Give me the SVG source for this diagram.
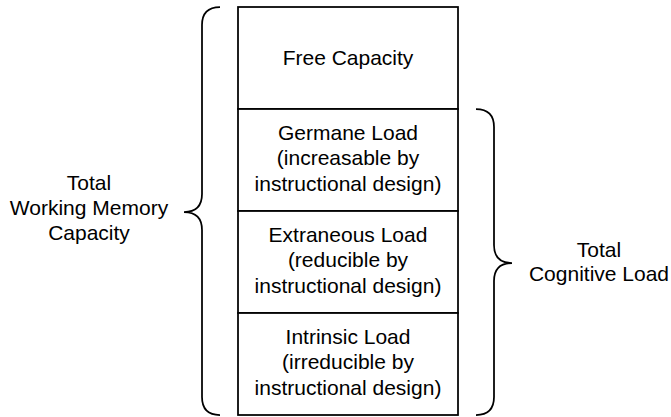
<svg xmlns="http://www.w3.org/2000/svg" width="671" height="417" viewBox="0 0 671 417">
  <style>
    .box { fill: #ffffff; stroke: #000000; stroke-width: 1.75; }
    .brace { fill: none; stroke: #000000; stroke-width: 1.75; }
    text { font-family: "Liberation Sans", Arial, sans-serif; font-size: 21px; fill: #000000; text-anchor: middle; }
  </style>
  <rect width="671" height="417" fill="#ffffff"/>

  <!-- stacked memory blocks -->
  <g id="free-capacity">
    <rect class="box" x="238" y="7" width="220" height="102"/>
    <text x="348" y="65">Free Capacity</text>
  </g>
  <g id="germane-load">
    <rect class="box" x="238" y="109" width="220" height="102"/>
    <text x="348" y="139.5">Germane Load</text>
    <text x="348" y="165">(increasable by</text>
    <text x="348" y="190.5">instructional design)</text>
  </g>
  <g id="extraneous-load">
    <rect class="box" x="238" y="211" width="220" height="102"/>
    <text x="348" y="241.5">Extraneous Load</text>
    <text x="348" y="267">(reducible by</text>
    <text x="348" y="292.5">instructional design)</text>
  </g>
  <g id="intrinsic-load">
    <rect class="box" x="238" y="313" width="220" height="102"/>
    <text x="348" y="343.5">Intrinsic Load</text>
    <text x="348" y="369">(irreducible by</text>
    <text x="348" y="394.5">instructional design)</text>
  </g>

  <!-- curly brackets -->
  <g id="connectors">
    <path class="brace" d="M220,7 Q202,7 202,25 L202,194 Q202,212 184,212 Q202,212 202,230 L202,397 Q202,415 220,415"/>
    <path class="brace" d="M476,109 Q494,109 494,127 L494,245 Q494,263 512,263 Q494,263 494,281 L494,397 Q494,415 476,415"/>
  </g>

  <g id="total-working-memory">
    <text x="89" y="190">Total</text>
    <text x="89" y="215">Working Memory</text>
    <text x="89" y="240">Capacity</text>
  </g>
  <g id="total-cognitive-load">
    <text x="599" y="256.5">Total</text>
    <text x="599" y="281">Cognitive Load</text>
  </g>
</svg>
